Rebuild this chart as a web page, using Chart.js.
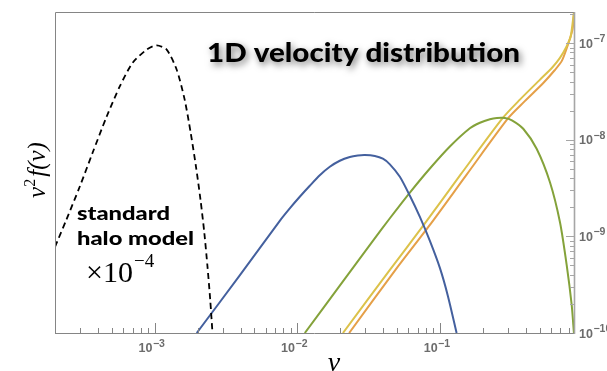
<!DOCTYPE html>
<html>
<head>
<meta charset="utf-8">
<script src="https://cdn.jsdelivr.net/npm/chart.js@4"></script>
<style>
  html, body { margin: 0; padding: 0; background: #fff; }
</style>
</head>
<body>
<canvas id="chart" width="607" height="371"></canvas>
<script>
// v (in units of c) and v^2 f(v) for each curve, log-log
const shmV = [2.0e-4, 2.40e-4, 2.98e-4, 3.67e-4, 4.60e-4, 5.68e-4, 7.01e-4, 8.79e-4, 1.033e-3, 1.214e-3, 1.427e-3, 1.623e-3, 1.789e-3, 1.949e-3, 2.096e-3, 2.229e-3, 2.347e-3, 2.452e-3, 2.544e-3]
const shmF = [7.78e-10, 1.48e-9, 3.26e-9, 7.33e-9, 1.73e-8, 3.54e-8, 6.28e-8, 8.56e-8, 9.49e-8, 8.56e-8, 5.31e-8, 2.60e-8, 1.18e-8, 5.25e-9, 2.39e-9, 1.09e-9, 4.83e-10, 2.20e-10, 1.0e-10]

const blueV = [1.971e-3, 3.95e-3, 7.54e-3, 8.86e-3, 1.041e-2, 1.224e-2, 1.438e-2, 1.691e-2, 1.987e-2, 2.336e-2, 2.658e-2, 2.977e-2, 3.50e-2, 3.981e-2, 4.46e-2, 5.24e-2, 6.16e-2, 7.24e-2, 8.51e-2, 0.100, 0.1138, 0.131]
const blueF = [1.0e-10, 3.94e-10, 1.45e-9, 1.95e-9, 2.57e-9, 3.34e-9, 4.29e-9, 5.25e-9, 6.06e-9, 6.62e-9, 6.86e-9, 6.94e-9, 6.78e-9, 6.36e-9, 5.57e-9, 4.14e-9, 2.63e-9, 1.59e-9, 8.98e-10, 4.72e-10, 2.42e-10, 1.0e-10]

const greenV = [1.129e-2, 1.987e-2, 3.40e-2, 4.46e-2, 6.16e-2, 8.51e-2, 0.1175, 0.1623, 0.1909, 0.2243, 0.2512, 0.2858, 0.3201, 0.3842, 0.477, 0.5914, 0.6953, 0.7746, 0.840, 0.871]
const greenF = [1.0e-10, 3.09e-10, 9.05e-10, 1.54e-9, 2.84e-9, 5.04e-9, 8.52e-9, 1.316e-8, 1.50e-8, 1.63e-8, 1.68e-8, 1.68e-8, 1.59e-8, 1.30e-8, 8.07e-9, 3.63e-9, 1.40e-9, 5.07e-10, 1.95e-10, 1.0e-10]

const yellowV = [2.09e-2, 4.46e-2, 7.64e-2, 0.140, 0.277, 0.364, 0.504, 0.616, 0.695, 0.767, 0.826, 0.872]
const yellowF = [1.0e-10, 4.50e-10, 1.29e-9, 4.38e-9, 1.69e-8, 2.60e-8, 4.19e-8, 5.63e-8, 7.03e-8, 9.01e-8, 1.17e-7, 2.12e-7]

const orangeV = [2.31e-2, 4.88e-2, 8.43e-2, 0.1545, 0.303, 0.394, 0.531, 0.638, 0.718, 0.791, 0.851, 0.872]
const orangeF = [1.0e-10, 4.50e-10, 1.29e-9, 4.38e-9, 1.69e-8, 2.51e-8, 3.87e-8, 5.24e-8, 6.59e-8, 9.64e-8, 1.38e-7, 2.0e-7]

// labelled decades on each axis
const xDecades = [-3, -2, -1]
const yDecades = [-10, -9, -8, -7]

const zip = (xs, ys) => xs.map((x, i) => ({ x, y: ys[i] }))

// integer mantissa of a log tick (1..9), or null for in-between ticks like 1.5
function mantissa(value) {
  const e = Math.floor(Math.log10(value) + 1e-9)
  const m = value / Math.pow(10, e)
  return Math.abs(m - Math.round(m)) < 1e-6 ? Math.round(m) : null
}

const BASE_FONT = 'bold 12.5px "Liberation Sans", "DejaVu Sans", sans-serif'
const EXP_FONT = 'bold 10.5px "Liberation Sans", "DejaVu Sans", sans-serif'

// "10" with a raised exponent; (x, y) is the left end of the baseline
function powerLabel(ctx, e, x, y) {
  ctx.font = BASE_FONT
  ctx.fillText('10', x, y)
  const wb = ctx.measureText('10').width
  ctx.font = EXP_FONT
  ctx.fillText(String(e).replace('-', '−'), x + wb + 0.5, y - 5.5)
}

function powerWidth(ctx, e) {
  ctx.font = BASE_FONT
  const wb = ctx.measureText('10').width
  ctx.font = EXP_FONT
  return wb + 0.5 + ctx.measureText(String(e).replace('-', '−')).width
}

// text squeezed or stretched horizontally to a given width
function fitText(ctx, text, x, y, width) {
  const w = ctx.measureText(text).width
  ctx.save()
  ctx.translate(x, y)
  ctx.scale(width / w, 1)
  ctx.fillText(text, 0, 0)
  ctx.restore()
}

// frame, inward-pointing tick marks and decade labels
const frameAndTicks = {
  id: 'frameAndTicks',
  afterDatasetsDraw(chart) {
    const { ctx, chartArea: a, scales: { x, y } } = chart
    ctx.save()
    ctx.lineWidth = 1
    ctx.strokeStyle = '#858585'
    ctx.beginPath()
    ctx.moveTo(a.left + 0.5, a.bottom + 0.5)
    ctx.lineTo(a.left + 0.5, a.top + 0.5)
    ctx.lineTo(a.right, a.top + 0.5)
    ctx.moveTo(a.left, a.bottom + 0.5)
    ctx.lineTo(a.right, a.bottom + 0.5)
    for (const t of x.ticks) {
      const m = mantissa(t.value)
      if (m === null) continue
      const px = Math.round(x.getPixelForValue(t.value)) + 0.5
      if (px < a.left + 2 || px > a.right - 2) continue
      ctx.moveTo(px, a.bottom)
      ctx.lineTo(px, a.bottom - (m === 1 ? 10 : 5))
    }
    ctx.stroke()

    ctx.strokeStyle = '#a6a6a6'
    ctx.beginPath()
    for (const t of y.ticks) {
      const m = mantissa(t.value)
      if (m === null) continue
      const py = Math.round(y.getPixelForValue(t.value)) + 0.5
      if (py < a.top + 2 || py > a.bottom - 2) continue
      ctx.moveTo(a.right, py)
      ctx.lineTo(a.right - (m === 1 ? 8 : 4), py)
    }
    ctx.stroke()
    ctx.lineWidth = 1.6
    ctx.beginPath()
    ctx.moveTo(a.right + 0.5, a.top)
    ctx.lineTo(a.right + 0.5, a.bottom + 1)
    ctx.stroke()

    ctx.fillStyle = '#6c6c6c'
    ctx.textAlign = 'left'
    ctx.textBaseline = 'alphabetic'
    for (const e of xDecades) {
      const px = x.getPixelForValue(Math.pow(10, e))
      powerLabel(ctx, e, px - 3 - powerWidth(ctx, e) / 2, a.bottom + 19)
    }
    for (const e of yDecades) {
      const py = y.getPixelForValue(Math.pow(10, e))
      powerLabel(ctx, e, a.right + 5, py + 4.5)
    }
    ctx.restore()
  }
}

// title, annotations and axis titles
const annotations = {
  id: 'annotations',
  afterDraw(chart) {
    const { ctx } = chart
    ctx.save()
    ctx.textAlign = 'left'
    ctx.textBaseline = 'alphabetic'
    ctx.fillStyle = '#000'

    ctx.save()
    ctx.font = '900 26px Lato'
    ctx.shadowColor = 'rgba(0,0,0,0.55)'
    ctx.shadowBlur = 7
    ctx.shadowOffsetX = 2
    ctx.shadowOffsetY = 3
    fitText(ctx, '1D velocity distribution', 207, 62, 313)
    ctx.restore()

    ctx.font = '900 18px Lato'
    fitText(ctx, 'standard', 77, 220, 93)
    fitText(ctx, 'halo model', 77, 245, 117)

    ctx.font = '30px "Liberation Serif"'
    ctx.fillText('×10', 86, 282)
    const w = ctx.measureText('×10').width
    ctx.font = '19px "Liberation Serif"'
    ctx.fillText('−4', 86 + w + 1, 267)

    // y axis title, rotated
    ctx.save()
    ctx.translate(45, 170)
    ctx.rotate(-Math.PI / 2)
    ctx.font = 'italic 25px "Liberation Serif"'
    const wv = ctx.measureText('v').width
    const wf = ctx.measureText('f(v)').width
    ctx.font = '16px "Liberation Serif"'
    const w2 = ctx.measureText('2').width
    let cx = -(wv + w2 + 2 + wf) / 2
    ctx.font = 'italic 25px "Liberation Serif"'
    ctx.fillText('v', cx, 0)
    cx += wv
    ctx.font = '16px "Liberation Serif"'
    ctx.fillText('2', cx, -10)
    cx += w2 + 2
    ctx.font = 'italic 25px "Liberation Serif"'
    ctx.fillText('f(v)', cx, 0)
    ctx.restore()

    ctx.font = 'italic 28px "Liberation Serif"'
    ctx.textAlign = 'center'
    ctx.fillText('v', 334, 371)
    ctx.restore()
  }
}

const line = (data, color, extra = {}) => ({
  data,
  borderColor: color,
  borderWidth: 2,
  pointRadius: 0,
  fill: false,
  tension: 0.25,
  ...extra,
})

new Chart(document.getElementById('chart'), {
  type: 'line',
  data: {
    datasets: [
      line(zip(shmV, shmF), '#000', { borderDash: [6, 4], borderWidth: 1.8 }),
      line(zip(blueV, blueF), '#44609e'),
      line(zip(greenV, greenF), '#84a23a'),
      line(zip(yellowV, yellowF), '#dcc24a'),
      line(zip(orangeV, orangeF), '#e5a048'),
    ],
  },
  options: {
    responsive: false,
    animation: false,
    devicePixelRatio: 1,
    layout: { padding: { left: 55, top: 12, right: 0, bottom: 0 } },
    plugins: { legend: { display: false }, tooltip: { enabled: false } },
    scales: {
      x: {
        type: 'logarithmic',
        min: 2e-4,
        max: 0.872,
        border: { display: false },
        grid: { display: false, drawTicks: false },
        ticks: { display: false, autoSkip: false },
        afterFit: s => { s.height = 38 },
      },
      y: {
        type: 'logarithmic',
        position: 'right',
        min: 1e-10,
        max: 2.1e-7,
        border: { display: false },
        grid: { display: false, drawTicks: false },
        ticks: { display: false, autoSkip: false },
        afterFit: s => { s.width = 33 },
      },
    },
  },
  plugins: [frameAndTicks, annotations],
})
</script>
</body>
</html>
